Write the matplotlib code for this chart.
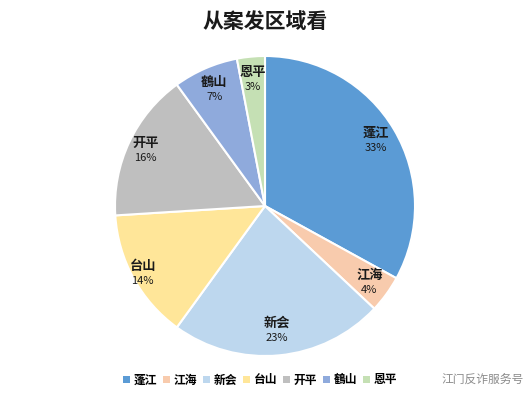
import matplotlib
matplotlib.use('Agg')
import numpy as np
from matplotlib import pyplot as plt
from matplotlib.patches import Patch

plt.rcParams['font.family'] = ['Noto Sans CJK SC', 'DejaVu Sans']

districts = ['蓬江', '江海', '新会', '台山', '开平', '鹤山', '恩平']
legend_names = ['蓬江', '江海', '新会', '台山', '开平', '鶴山', '恩平']
shares = [33, 4, 23, 14, 16, 7, 3]
colors = ['#5B9BD5', '#F8CBAD', '#BDD7EE', '#FFE699', '#BFBFBF', '#8FAADC', '#C5E0B4']

fig = plt.figure(figsize=(5.30, 3.99), dpi=100)
fig.set_facecolor('white')
ax = fig.add_axes([115 / 530, 43 / 399, 300 / 530, 300 / 399])

wedges, _ = ax.pie(shares, colors=colors, startangle=90, counterclock=False,
                   wedgeprops=dict(edgecolor='white', linewidth=1.5))
ax.set_xlim(-1, 1)
ax.set_ylim(-1, 1)
ax.set_aspect('equal')

# label radius per slice (Excel best-fit look)
label_r = [0.86, 0.86, 0.83, 0.93, 0.88, 0.85, 0.85]
for w, name, s, r in zip(wedges, legend_names, shares, label_r):
    ang = np.deg2rad((w.theta1 + w.theta2) / 2)
    x, y = r * np.cos(ang), r * np.sin(ang)
    ax.text(x, y + 0.048, name, ha='center', va='center', fontsize=9.5,
            fontweight='bold', color='#1a1a1a')
    ax.text(x, y - 0.052, f'{s}%', ha='center', va='center', fontsize=8,
            fontweight='medium', color='#1a1a1a')

fig.text(0.5, 1 - 22 / 399, '从案发区域看', ha='center', va='center',
         fontsize=15, fontweight='bold', color='#1a1a1a')

handles = [Patch(facecolor=c, edgecolor='none') for c in colors]
fig.legend(handles, legend_names, loc='center', bbox_to_anchor=(260 / 530, 1 - 380 / 399),
           ncol=7, frameon=False, handlelength=0.6, handleheight=0.6, handletextpad=0.3,
           columnspacing=0.5, prop={'size': 8.5, 'weight': 'bold'})

fig.text(483 / 530, 1 - 379 / 399, '江门反诈服务号', ha='center', va='center',
         fontsize=8.5, color='#8c8c8c')

fig.savefig('out.png', dpi=100)
